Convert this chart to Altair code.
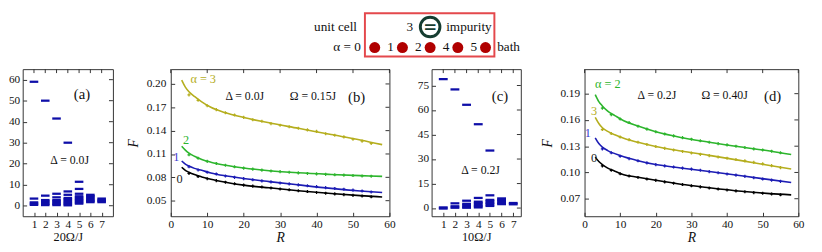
import altair as alt
import pandas as pd

FONT = "Liberation Serif"
FRAME = "#333333"
TXT = "#111111"
ALPHAS = ["0", "1", "2", "3"]
LINE_COLORS = ["#000000", "#1c1cb4", "#2db52d", "#b5ae1e"]
LABEL_COLORS = ["#222222", "#3b3bd0", "#2db52d", "#b5ae1e"]
BARC = "#0e0ea8"

A_LEVELS = {
    1: [59, 3.4, 1.6, 1.0, 0.4],
    2: [50, 4.8, 2.7, 2.1, 1.5, 0.9, 0.3],
    3: [41.5, 5.7, 4.0, 2.7, 2.1, 1.5, 0.9, 0.3],
    4: [30, 6.8, 5.2, 3.7, 3.1, 2.5, 1.9, 1.3, 0.7, 0.2],
    5: [11.4, 8.0, 5.7, 4.5, 3.9, 3.3, 2.7, 2.1, 1.5, 1.0],
    6: [5.2, 4.6, 4.0, 3.4, 2.8, 2.2, 1.7],
    7: [3.4, 2.8, 2.2, 1.7],
}
C_LEVELS = {
    1: [78.9, 0.4, -0.3],
    2: [72.6, 2.9, 1.1, 0.2],
    3: [63.2, 4.5, 2.6, 1.7, 0.8, 0.2],
    4: [51.3, 6.2, 3.9, 3.0, 2.1, 1.2, 0.4],
    5: [35.2, 7.8, 5.0, 4.1, 3.2, 2.3, 1.3],
    6: [5.9, 5.0, 4.1, 3.2, 2.4],
    7: [3.1, 2.3],
}
LEVEL_TICKS_X = [1, 2, 3, 4, 5, 6, 7]
A_TICKS_Y = [0, 10, 20, 30, 40, 50, 60]
C_TICKS_Y = [0, 15, 30, 45, 60, 75]

R_LINE = [3, 4, 5, 6.5, 8.5, 11, 15, 20, 27, 35, 44, 52, 58]
R_PTS = [5, 7.5, 10, 12.5, 15, 17.5, 20, 22.5, 25, 27.5, 30, 32.5, 35,
         37.5, 40, 42.5, 45, 47.5, 50, 52.5, 55]

B_LINE = {
    "3": [0.205, 0.196, 0.190, 0.184, 0.177, 0.170, 0.163, 0.157, 0.150, 0.143, 0.135, 0.128, 0.122],
    "2": [0.120, 0.115, 0.111, 0.107, 0.103, 0.0995, 0.0955, 0.092, 0.0885, 0.0858, 0.0837, 0.0822, 0.0812],
    "1": [0.101, 0.097, 0.0945, 0.0915, 0.089, 0.0857, 0.082, 0.0785, 0.0745, 0.0703, 0.0658, 0.0625, 0.0605],
    "0": [0.093, 0.089, 0.0865, 0.0835, 0.0805, 0.0775, 0.0738, 0.070, 0.0665, 0.0628, 0.0592, 0.0565, 0.0548],
}
B_PTS = {
    "3": [0.186, 0.179, 0.172, 0.167, 0.163, 0.160, 0.157, 0.154, 0.152, 0.149, 0.147, 0.145, 0.143,
          0.141, 0.139, 0.136, 0.134, 0.132, 0.129, 0.1265, 0.1235],
    "2": [0.109, 0.1045, 0.1005, 0.0978, 0.0955, 0.0935, 0.0918, 0.0905, 0.0893, 0.0882, 0.0873, 0.0865,
          0.0857, 0.085, 0.0845, 0.0838, 0.0833, 0.0828, 0.0823, 0.0818, 0.0814],
    "1": [0.0935, 0.0895, 0.0865, 0.0843, 0.0818, 0.0800, 0.0783, 0.0768, 0.0755, 0.0742, 0.0728, 0.0716,
          0.0703, 0.0692, 0.0680, 0.0668, 0.0657, 0.0647, 0.0635, 0.0625, 0.0612],
    "0": [0.085, 0.081, 0.0782, 0.0758, 0.0737, 0.0718, 0.0700, 0.0687, 0.0675, 0.0663, 0.0650, 0.0640,
          0.0628, 0.0617, 0.0605, 0.0596, 0.0587, 0.0578, 0.0568, 0.0560, 0.0550],
}
D_LINE = {
    "2": [0.189, 0.181, 0.176, 0.170, 0.165, 0.159, 0.153, 0.1465, 0.140, 0.1345, 0.129, 0.1245, 0.1205],
    "3": [0.163, 0.156, 0.151, 0.147, 0.143, 0.139, 0.1345, 0.1296, 0.1245, 0.1195, 0.1135, 0.108, 0.104],
    "1": [0.1395, 0.133, 0.129, 0.125, 0.1215, 0.118, 0.1135, 0.109, 0.1052, 0.101, 0.0962, 0.0918, 0.0885],
    "0": [0.1175, 0.1125, 0.109, 0.105, 0.1015, 0.0975, 0.0945, 0.091, 0.0865, 0.0825, 0.0785, 0.0758, 0.0744],
}
D_PTS = {
    "2": [0.1735, 0.166, 0.161, 0.157, 0.1528, 0.1495, 0.1465, 0.144, 0.1418, 0.1398, 0.138, 0.1362,
          0.1345, 0.1329, 0.1315, 0.130, 0.1285, 0.127, 0.1257, 0.1243, 0.1225],
    "3": [0.149, 0.1445, 0.1405, 0.1375, 0.1345, 0.132, 0.1296, 0.1275, 0.1257, 0.124, 0.1223, 0.1207,
          0.1192, 0.1177, 0.1163, 0.1148, 0.1132, 0.1115, 0.1098, 0.1078, 0.1055],
    "1": [0.127, 0.1225, 0.1185, 0.1157, 0.1133, 0.111, 0.109, 0.1075, 0.1062, 0.105, 0.1038, 0.1025,
          0.101, 0.0997, 0.0983, 0.097, 0.0955, 0.094, 0.0925, 0.0912, 0.0898],
    "0": [0.1075, 0.1025, 0.0985, 0.096, 0.0943, 0.0925, 0.091, 0.0893, 0.0877, 0.0862, 0.0848, 0.0835,
          0.0823, 0.0811, 0.080, 0.079, 0.078, 0.077, 0.0762, 0.0754, 0.0745],
}
R_TICKS = [0, 10, 20, 30, 40, 50, 60]
B_TICKS_Y = [0.05, 0.08, 0.11, 0.14, 0.17, 0.20]
D_TICKS_Y = [0.07, 0.10, 0.13, 0.16, 0.19]

B_CURVE_LABELS = [("3", "α = 3", 8.9, 0.2067), ("2", "2", 4.2, 0.1275), ("1", "1", 1.5, 0.106), ("0", "0", 2.4, 0.0775)]
D_CURVE_LABELS = [("2", "α = 2", 6.5, 0.2007), ("3", "3", 2.7, 0.170), ("1", "1", 0.9, 0.145), ("0", "0", 2.7, 0.1167)]
A_NOTES = [("(a)", 5.25, 53, 15), ("Δ = 0.0J", 4.16, 21.8, 12)]
B_NOTES = [("Δ = 0.0J", 20.3, 0.184, 12), ("Ω = 0.15J", 39.0, 0.184, 12), ("(b)", 51.0, 0.1825, 15)]
C_NOTES = [("(c)", 5.86, 68.5, 15), ("Δ = 0.2J", 4.2, 23, 12)]
D_NOTES = [("Δ = 0.2J", 20.3, 0.188, 12), ("Ω = 0.40J", 39.3, 0.188, 12), ("(d)", 52.8, 0.1867, 15)]

H = 150


def x_axis(values, fmt, title, italic, tsize):
    return alt.Axis(values=values, format=fmt, domain=False, grid=False, ticks=True, tickSize=4,
                    tickColor=FRAME, offset=-4, labelPadding=2, labelFont=FONT, labelFontSize=11.5,
                    labelColor=TXT, labelFlush=False, title=title, titleFont=FONT, titleFontSize=tsize,
                    titleFontStyle="italic" if italic else "normal", titleFontWeight="normal",
                    titleColor=TXT, titlePadding=1)


def y_axis(values, fmt, title, pad):
    return alt.Axis(values=values, format=fmt, domain=False, grid=False, ticks=True, tickSize=4,
                    tickColor=FRAME, offset=-4, labelPadding=pad, labelFont=FONT, labelFontSize=11.5,
                    labelColor=TXT, labelFlush=False, title=title, titleFont=FONT, titleFontSize=14,
                    titleFontStyle="italic", titleFontWeight="normal", titleColor=TXT, titlePadding=6)


def frame_layers(xs, ys, xa, ya, xticks, yticks, W):
    top = alt.Chart(pd.DataFrame({"tv": xticks})).mark_rule(color=FRAME, strokeWidth=1).encode(
        x=alt.X("tv:Q", scale=xs, axis=xa), y=alt.value(0), y2=alt.value(4))
    right = alt.Chart(pd.DataFrame({"rv": yticks})).mark_rule(color=FRAME, strokeWidth=1).encode(
        y=alt.Y("rv:Q", scale=ys, axis=ya), x=alt.value(W), x2=alt.value(W - 4))
    return [top, right]


def notes_layer(notes, xs, ys, xa, ya):
    layers = []
    for t, x, y, s in notes:
        layers.append(alt.Chart(pd.DataFrame({"t": [t], "x": [x], "y": [y]})).mark_text(
            font=FONT, fontSize=s, color=TXT).encode(
            x=alt.X("x:Q", scale=xs, axis=xa), y=alt.Y("y:Q", scale=ys, axis=ya), text="t:N"))
    return layers


def level_panel(levels, xdom, ydom, yticks, W, xtitle, notes):
    xs = alt.Scale(domain=xdom, nice=False, zero=False)
    ys = alt.Scale(domain=ydom, nice=False, zero=False)
    xa = x_axis(LEVEL_TICKS_X, "d", xtitle, False, 12.5)
    ya = y_axis(yticks, "d", None, 3)
    rows = [{"c": c, "v": v} for c, vals in levels.items() for v in vals]
    bars = alt.Chart(pd.DataFrame(rows)).transform_calculate(
        x1="datum.c - 0.38", x2="datum.c + 0.38").mark_rule(color=BARC, strokeWidth=2.3).encode(
        x=alt.X("x1:Q", scale=xs, axis=xa), x2="x2:Q", y=alt.Y("v:Q", scale=ys, axis=ya))
    fr = frame_layers(xs, ys, xa, ya, LEVEL_TICKS_X, yticks, W)
    return alt.layer(bars, *fr, *notes_layer(notes, xs, ys, xa, ya)).properties(width=W, height=H)


def curve_panel(lines, pts, ydom, yticks, W, labels, notes):
    xs = alt.Scale(domain=[0, 60], nice=False, zero=False)
    ys = alt.Scale(domain=ydom, nice=False, zero=False)
    xa = x_axis(R_TICKS, "d", "R", True, 14)
    ya = y_axis(yticks, ".2f", "F", 5)
    cs = alt.Scale(domain=ALPHAS, range=LINE_COLORS)
    cl = alt.Scale(domain=ALPHAS, range=LABEL_COLORS)
    ldf = pd.DataFrame([{"a": a, "R": r, "F": f} for a, vals in lines.items() for r, f in zip(R_LINE, vals)])
    pdf = pd.DataFrame([{"a": a, "R": r, "F": f} for a, vals in pts.items() for r, f in zip(R_PTS, vals)])
    line = alt.Chart(ldf).mark_line(strokeWidth=1.6, interpolate="monotone").encode(
        x=alt.X("R:Q", scale=xs, axis=xa), y=alt.Y("F:Q", scale=ys, axis=ya),
        color=alt.Color("a:N", scale=cs, legend=None))
    points = alt.Chart(pdf).mark_point(shape="cross", filled=True, size=10, opacity=1).encode(
        x=alt.X("R:Q", scale=xs, axis=xa), y=alt.Y("F:Q", scale=ys, axis=ya),
        color=alt.Color("a:N", scale=cs, legend=None))
    lab = alt.Chart(pd.DataFrame([{"a": a, "t": t, "x": x, "y": y} for a, t, x, y in labels])).mark_text(
        font=FONT, fontSize=12.5).encode(
        x=alt.X("x:Q", scale=xs, axis=xa), y=alt.Y("y:Q", scale=ys, axis=ya), text="t:N",
        color=alt.Color("a:N", scale=cl, legend=None))
    fr = frame_layers(xs, ys, xa, ya, R_TICKS, yticks, W)
    return alt.layer(line, points, lab, *fr, *notes_layer(notes, xs, ys, xa, ya)).resolve_scale(
        color="independent").properties(width=W, height=H)


pa = level_panel(A_LEVELS, [0, 8], [-5, 65], A_TICKS_Y, 92, "20Ω/J", A_NOTES)
pb = curve_panel(B_LINE, B_PTS, [0.03, 0.219], B_TICKS_Y, 223, B_CURVE_LABELS, B_NOTES)
pc = level_panel(C_LEVELS, [0, 7.65], [-5, 85], C_TICKS_Y, 91, "10Ω/J", C_NOTES)
pd_ = curve_panel(D_LINE, D_PTS, [0.05, 0.218], D_TICKS_Y, 218, D_CURVE_LABELS, D_NOTES)

LW, LH = 806, 44
lx = alt.Scale(domain=[-12.708, 15.823], nice=False, zero=False)
ly = alt.Scale(domain=[-0.667, 1.43], nice=False, zero=False, reverse=True)
BATH_ALPHA = ["0", "1", "2", "4", "5"]
BATH_SLOT = [0, 1, 2, 3, 4]
IMP_SLOT = 2.0
BOX = {"x": [-0.354], "x2": [4.32], "y": [-0.667], "y2": [1.43]}
RIGHT_TEXT = [("unit cell", -0.64, 0), ("α = 0", -0.5, 1)]
LEFT_TEXT = [("impurity", 2.58, 0), ("bath", 4.42, 1)]
CENTER_TEXT = [("3", 1.27, 0)]


def enc_xy():
    return dict(x=alt.X("x:Q", scale=lx, axis=None), y=alt.Y("y:Q", scale=ly, axis=None))


box = alt.Chart(pd.DataFrame(BOX)).mark_rect(fillOpacity=0, stroke="#e4484c", strokeWidth=2).encode(
    x2="x2:Q", y2="y2:Q", **enc_xy())
txt_layers = []
for items, al in [(RIGHT_TEXT, "right"), (LEFT_TEXT, "left"), (CENTER_TEXT, "center")]:
    df = pd.DataFrame([{"t": t, "x": x, "y": y} for t, x, y in items])
    txt_layers.append(alt.Chart(df).mark_text(font=FONT, fontSize=13.5, color=TXT, align=al).encode(
        text="t:N", **enc_xy()))
bath_df = pd.DataFrame({"x": BATH_SLOT, "y": [1] * 5, "t": BATH_ALPHA})
dots = alt.Chart(bath_df).mark_circle(size=125, color="#b00000", opacity=1).encode(**enc_xy())
dot_labels = alt.Chart(bath_df[bath_df.t != "0"]).mark_text(
    font=FONT, fontSize=13.5, color=TXT, dx=-12).encode(text="t:N", **enc_xy())
imp_df = pd.DataFrame({"x": [IMP_SLOT], "y": [0], "t": ["="]})
ring = alt.Chart(imp_df).mark_point(shape="circle", filled=False, size=400, strokeWidth=3,
                                     color="#163d31", opacity=1).encode(**enc_xy())
eq = alt.Chart(imp_df).mark_text(font="DejaVu Sans", fontSize=17, fontWeight="bold",
                                  color="#163d31").encode(text="t:N", **enc_xy())
legend = alt.layer(box, *txt_layers, dots, dot_labels, ring, eq).properties(
    width=LW, height=LH, view=alt.ViewBackground(stroke="transparent"))

row = alt.hconcat(alt.hconcat(pa, pb, spacing=12), alt.hconcat(pc, pd_, spacing=18), spacing=21)
chart = alt.vconcat(legend, row, spacing=10, padding=0).configure_view(stroke=FRAME, strokeWidth=1)

chart.save("out.html", embed_options={"renderer": "svg", "actions": False})
